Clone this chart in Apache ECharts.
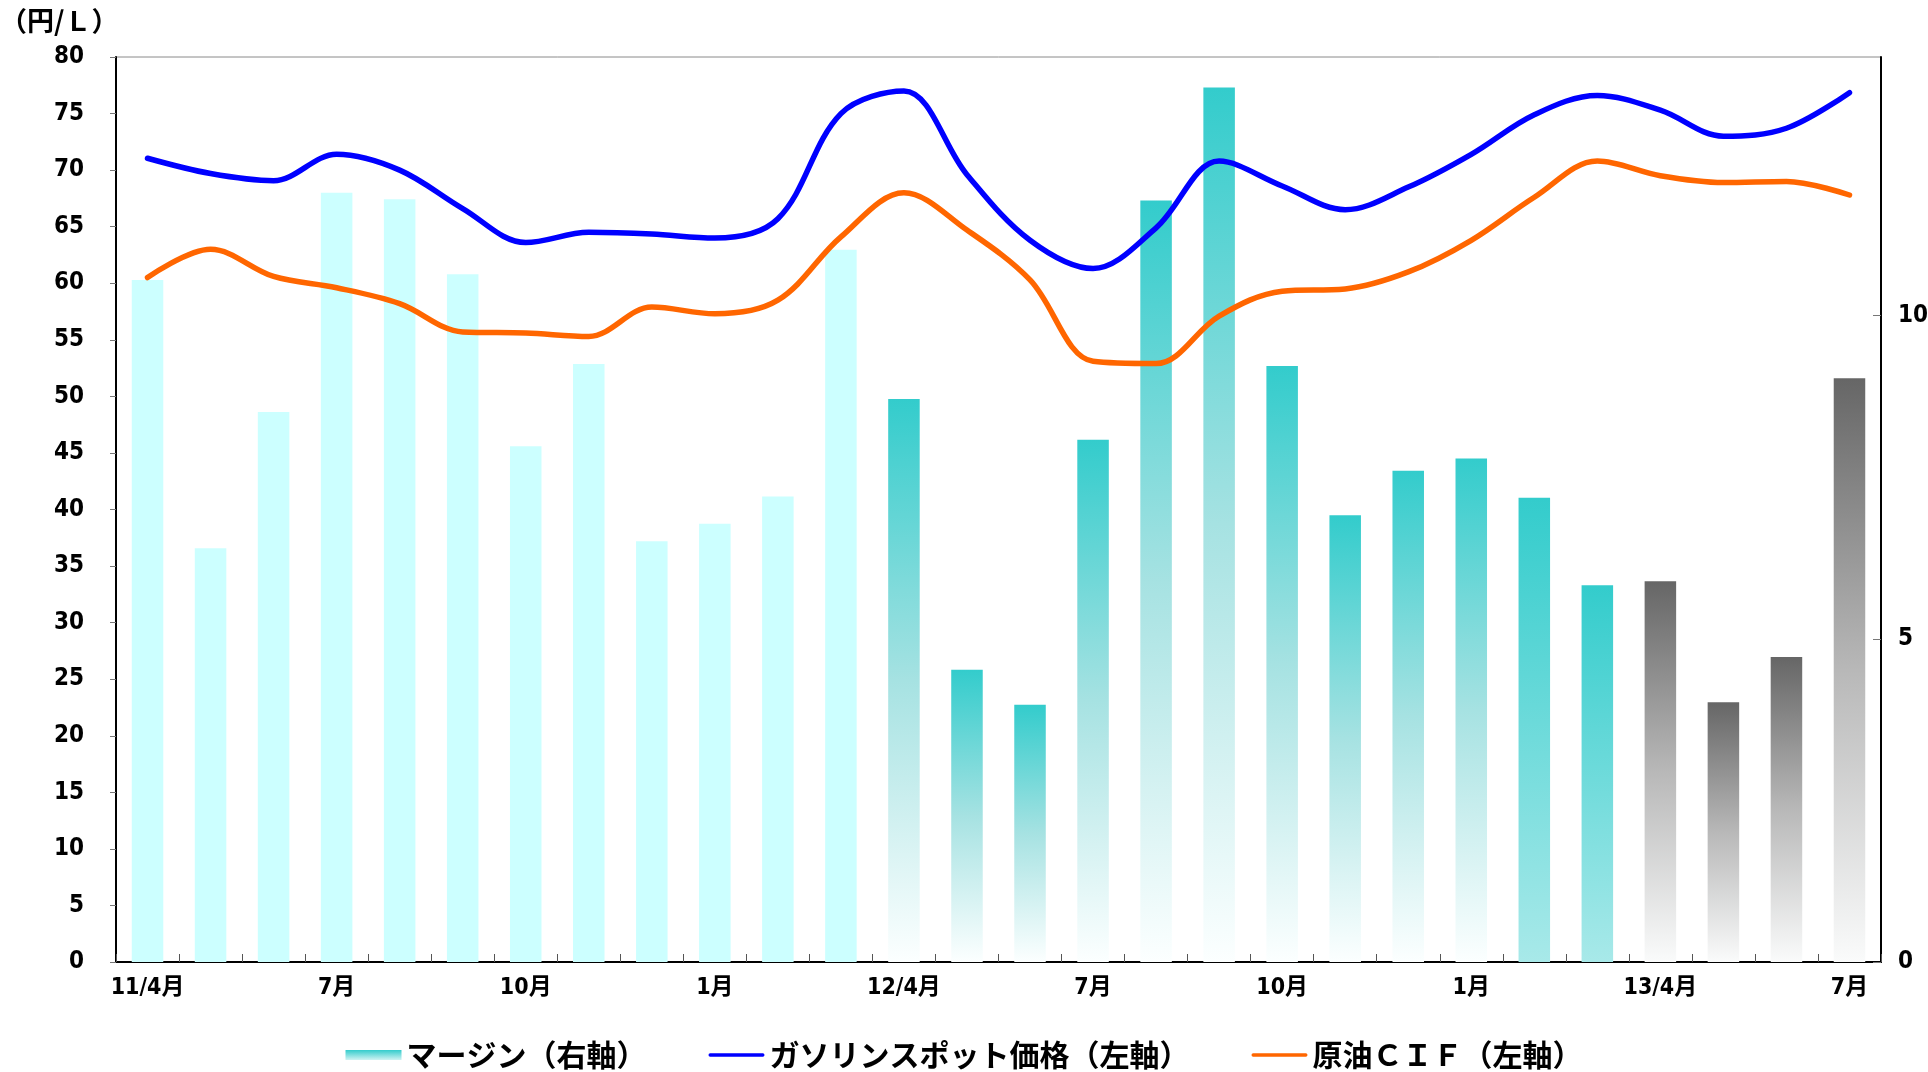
<!DOCTYPE html>
<html>
<head>
<meta charset="utf-8">
<script src="https://cdn.jsdelivr.net/npm/echarts@6/dist/echarts.min.js"></script>
<style>
html,body{margin:0;padding:0;background:#fff;}
#chart{width:1928px;height:1072px;}
</style>
</head>
<body>
<div id="chart"></div>
<script>
// ---- data ----
const categories = ['11/4月','5月','6月','7月','8月','9月','10月','11月','12月','1月','2月','3月',
  '12/4月','5月','6月','7月','8月','9月','10月','11月','12月','1月','2月','3月',
  '13/4月','5月','6月','7月'];
const marginValues = [10.55, 6.40, 8.51, 11.90, 11.80, 10.64, 7.98, 9.25, 6.51, 6.78, 7.20, 11.02,
  8.71, 4.52, 3.98, 8.08, 11.78, 13.53, 9.22, 6.91, 7.60, 7.79, 7.18, 5.83,
  5.89, 4.02, 4.72, 9.03];
const gasolineValues = [71.05, 69.7, 69.07, 71.4, 70.0, 66.6, 63.6, 64.5, 64.35, 64.0, 65.7, 75.0,
  77.0, 69.6, 63.8, 61.3, 64.9, 70.8, 68.6, 66.5, 68.5, 71.4, 74.9, 76.6,
  75.3, 73.0, 73.7, 76.85];
const crudeValues = [60.5, 63.0, 60.6, 59.6, 58.2, 55.7, 55.6, 55.3, 57.9, 57.3, 58.5, 64.1,
  68.0, 64.7, 60.3, 53.1, 52.9, 57.1, 59.3, 59.5, 61.0, 63.8, 67.6, 70.8,
  69.5, 68.9, 69.0, 67.8];
const seriesNames = ['マージン（右軸）', 'ガソリンスポット価格（左軸）', '原油ＣＩＦ（左軸）'];
const unitLabel = '（円/Ｌ）';

// ---- styles ----
const NARROW = "'DejaVu Sans Condensed', 'Liberation Sans Narrow', 'Noto Sans CJK JP', sans-serif";
const CJK = "'Noto Sans CJK JP', sans-serif";
const LINE_ICON = 'path://M0,0 L0,0 M0,10 L0,10 M3,2 L97,2 A3,3 0 0 1 97,8 L3,8 A3,3 0 0 1 3,2 Z';
function vgrad(stops) {
  return new echarts.graphic.LinearGradient(0, 0, 0, 1,
    stops.map(s => ({offset: s[0], color: s[1]})));
}
function barColor(i) {
  if (i < 12) return '#CCFFFF';
  if (i < 22) return vgrad([[0, '#33CCCC'], [0.5, '#A6E2E2'], [1, '#FCFFFF']]);
  if (i < 24) return vgrad([[0, '#33CCCC'], [1, '#A8E9E9']]);
  return vgrad([[0, '#666666'], [0.5, '#B8B8B8'], [1, '#FAFBFB']]);
}

const chart = echarts.init(document.getElementById('chart'), null, {renderer: 'canvas'});
const option = {
  backgroundColor: '#ffffff',
  animation: false,
  grid: {left: 116, right: 47, top: 57, bottom: 110, containLabel: false, outerBoundsMode: 'none',
    show: true, borderColor: '#8a8a8a', borderWidth: 1, backgroundColor: 'transparent'},
  graphic: [{
    type: 'text', left: 0, top: 7,
    style: {text: unitLabel, font: 'bold 27px ' + CJK, fill: '#000'}
  }],
  legend: {
    top: 1040, left: 'center', padding: 0, itemGap: 62,
    itemWidth: 56, itemHeight: 10,
    textStyle: {fontSize: 30, fontWeight: 'bold', fontFamily: CJK, color: '#000'},
    data: [
      {name: seriesNames[0], icon: 'rect'},
      {name: seriesNames[1], icon: LINE_ICON},
      {name: seriesNames[2], icon: LINE_ICON}
    ]
  },
  xAxis: {
    type: 'category', data: categories, boundaryGap: true,
    axisLine: {lineStyle: {color: '#000', width: 2}},
    axisTick: {show: true, inside: true, length: 8, interval: 0, lineStyle: {color: '#555', width: 1}},
    axisLabel: {interval: 2, margin: 15, color: '#000', fontSize: 23, fontWeight: 'bold', fontFamily: NARROW},
    splitLine: {show: false}
  },
  yAxis: [{
    type: 'value', min: 0, max: 80, interval: 5, position: 'left',
    axisLine: {show: true, lineStyle: {color: '#000', width: 2}},
    axisTick: {show: true, inside: false, length: 6, lineStyle: {color: '#777'}},
    axisLabel: {margin: 32, color: '#000', fontSize: 24, fontWeight: 'bold', fontFamily: NARROW},
    splitLine: {show: false}
  }, {
    type: 'value', min: 0, max: 14, interval: 5, position: 'right',
    axisLine: {show: true, lineStyle: {color: '#000', width: 2}},
    axisTick: {show: true, inside: true, length: 8, lineStyle: {color: '#777'}},
    axisLabel: {margin: 17, color: '#000', fontSize: 24, fontWeight: 'bold', fontFamily: NARROW, showMaxLabel: false,
      formatter: v => (v % 5 === 0 ? String(v) : '')},
    splitLine: {show: false}
  }],
  series: [{
    name: seriesNames[0], type: 'bar', yAxisIndex: 1, barWidth: '50%',
    itemStyle: {color: vgrad([[0, '#33CCCC'], [1, '#CFF3F3']])},
    data: marginValues.map((v, i) => ({value: v, itemStyle: {color: barColor(i)}})),
    z: 1
  }, {
    name: seriesNames[1], type: 'line', yAxisIndex: 0, smooth: 0.35,
    symbol: 'none', showSymbol: false,
    lineStyle: {color: '#0000FF', width: 5.5, cap: 'round'},
    itemStyle: {color: '#0000FF'},
    data: gasolineValues, z: 3
  }, {
    name: seriesNames[2], type: 'line', yAxisIndex: 0, smooth: 0.35,
    symbol: 'none', showSymbol: false,
    lineStyle: {color: '#FF6600', width: 5.5, cap: 'round'},
    itemStyle: {color: '#FF6600'},
    data: crudeValues, z: 3
  }]
};
chart.setOption(option);
</script>
</body>
</html>
